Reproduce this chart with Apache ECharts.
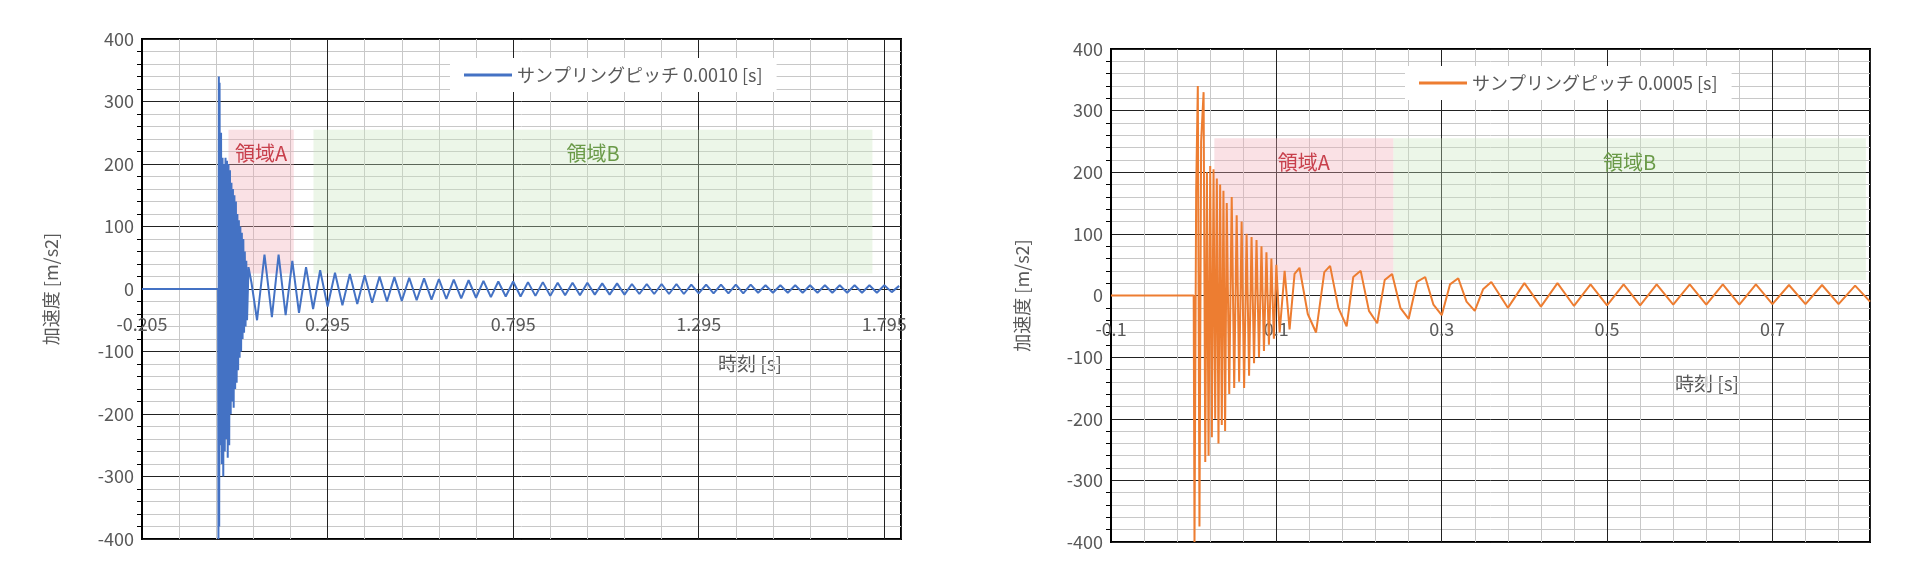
<!DOCTYPE html>
<html><head><meta charset="utf-8">
<script src="https://cdn.jsdelivr.net/npm/echarts@6/dist/echarts.min.js"></script>
<style>html,body{margin:0;padding:0;background:#fff}#c{width:1920px;height:588px}</style>
</head><body><div id="c"></div>
<script>
// Left series (sampling 0.0010 s): times [s] and accelerations [m/s2]
const timesA = [-0.205,0,0.001,0.002,0.003,0.004,0.006,0.008,0.010,0.012,0.014,0.016,0.018,0.020,0.022,0.024,0.026,0.028,0.030,0.032,0.034,0.036,0.038,0.040,0.042,0.044,0.046,0.048,0.050,0.052,0.054,0.056,0.058,0.060,0.062,0.064,0.066,0.068,0.070,0.072,0.074,0.076,0.078,0.082,0.090,0.105,0.125,0.145,0.163,0.182,0.200,0.218,0.237,0.256,0.275,
0.295,0.315,0.335,0.355,0.375,0.395,0.415,0.435,0.455,0.475,0.495,0.515,0.535,0.555,0.575,0.595,0.615,0.635,0.655,0.675,0.695,0.715,0.735,0.755,0.775,0.795,0.815,0.835,0.855,0.875,0.895,0.915,0.935,0.955,0.975,0.995,1.015,1.035,1.055,1.075,1.095,1.115,1.135,1.155,1.175,1.195,1.215,1.235,1.255,1.275,1.295,1.315,1.335,1.355,1.375,1.395,1.415,1.435,1.455,1.475,1.495,1.515,1.535,1.555,1.575,1.595,1.615,1.635,1.655,1.675,1.695,1.715,1.735,1.755,1.775,1.795,1.815,1.835];
const valuesA = [0,0,-400,340,-380,330,-250,250,-280,210,-300,200,-260,210,-240,205,-270,200,-250,190,-200,170,-180,160,-190,150,-160,140,-150,120,-130,110,-110,100,-100,90,-80,80,-70,60,-60,45,-50,35,10,-50,55,-45,55,-42,45,-38,35,-32,30,
-28,26,-26,24,-24,22,-22,20,-20,19,-19,18,-18,17,-17,16,-16,15,-15,14,-14,13,-13,12,-12,12,-12,11,-11,11,-11,10,-10,10,-10,10,-9,9,-9,9,-9,8,-8,8,-8,8,-8,8,-8,7,-7,7,-7,7,-7,7,-7,7,-6,6,-6,6,-6,6,-6,6,-6,6,-6,6,-6,6,-6,6,-6,6,-5,5,-5,5];
// Right series (sampling 0.0005 s)
const timesB = [-0.1,0,0.001,0.003,0.005,0.007,0.009,0.012,0.014,0.016,0.018,0.020,0.022,0.024,0.026,0.028,0.030,0.032,0.034,0.036,0.038,0.040,0.043,0.046,0.049,0.052,0.055,0.058,0.061,0.064,0.067,0.070,0.073,0.076,0.079,0.082,0.085,0.088,0.091,0.094,0.097,0.100,0.104,0.110,0.116,0.122,0.128,0.138,0.148,0.158,0.165,0.175,0.185,0.193,0.202,0.212,0.222,0.231,0.240,0.250,0.260,0.270,0.280,0.290,0.300,0.310,0.320,0.330,0.340,0.350,0.360,0.380,0.400,0.420,0.440,0.460,0.480,0.500,0.520,0.540,0.560,0.580,0.600,0.620,0.640,0.660,0.680,0.700,0.720,0.740,0.760,0.780,0.800,0.818];
const valuesB = [0,0,-400,170,340,-375,250,330,-270,200,-260,210,-230,205,-200,190,-240,180,-210,170,-220,150,-160,160,-150,130,-140,120,-150,100,-130,95,-110,90,-100,80,-90,70,-80,60,-70,50,-60,40,-55,35,45,-30,-60,38,48,-20,-50,30,40,-25,-45,25,35,-20,-38,22,30,-15,-32,18,28,-10,-25,10,22,-20,20,-18,20,-17,18,-16,18,-16,18,-15,18,-15,18,-15,18,-14,17,-14,17,-14,16,-10];

const pairs = (t, v) => t.map((x, i) => [x, v[i]]);
const font = 'Noto Sans CJK JP';
const gray = '#595959';

function axes(gi, min, max, interval, nameGap, labelMargin) {
  const x = {
    type: 'value', gridIndex: gi, min: min, max: max, interval: interval,
    axisLine: { show: false },
    axisTick: { show: false },
    axisLabel: { color: gray, fontSize: 18, fontFamily: font, showMaxLabel: false, margin: labelMargin,
      formatter: v => String(+v.toFixed(3)) },
    splitLine: { show: true, lineStyle: { color: '#222', width: 1 } },
    minorTick: { show: false, splitNumber: 5 },
    minorSplitLine: { show: true, lineStyle: { color: '#c8c8c8', width: 1 } }
  };
  const y = {
    type: 'value', gridIndex: gi, min: -400, max: 400, interval: 100,
    name: '加速度 [m/s2]', nameLocation: 'middle', nameGap: nameGap,
    nameTextStyle: { color: gray, fontSize: 18, fontFamily: font },
    axisLine: { show: true, onZero: false, lineStyle: { color: '#000', width: 2 } },
    axisTick: { show: false },
    minorTick: { show: true, splitNumber: 5, length: 5, lineStyle: { color: '#000' } },
    axisLabel: { color: gray, fontSize: 18, fontFamily: font },
    splitLine: { show: true, lineStyle: { color: '#222', width: 1 } },
    minorSplitLine: { show: true, lineStyle: { color: '#c8c8c8', width: 1 } }
  };
  return [x, y];
}
const [x0, y0] = axes(0, -0.205, 1.84, 0.5, 82, -224);
const [x1, y1] = axes(1, -0.1, 0.818, 0.2, 80, -222);

function areas(a, b) {
  return {
    silent: true,
    data: [
      [{ xAxis: a[0], yAxis: 25, itemStyle: { color: 'rgba(240,170,180,0.35)' },
         label: { show: true, position: 'insideTop', distance: 14, formatter: '領域A', color: '#c8404c', fontSize: 20, fontFamily: font } },
       { xAxis: a[1], yAxis: 255 }],
      [{ xAxis: b[0], yAxis: 25, itemStyle: { color: 'rgba(200,230,190,0.35)' },
         label: { show: true, position: 'insideTop', distance: 14, formatter: '領域B', color: '#6a9a48', fontSize: 20, fontFamily: font } },
       { xAxis: b[1], yAxis: 255 }]
    ]
  };
}

const nameA = 'サンプリングピッチ 0.0010 [s]';
const nameB = 'サンプリングピッチ 0.0005 [s]';

const chart = echarts.init(document.getElementById('c'));
chart.setOption({
  animation: false,
  grid: [
    { left: 142, top: 39, width: 759, height: 500, show: true, borderColor: '#000', borderWidth: 2 },
    { left: 1111, top: 49, width: 759, height: 493, show: true, borderColor: '#000', borderWidth: 2 }
  ],
  xAxis: [x0, x1],
  yAxis: [y0, y1],
  legend: [
    { data: [nameA], left: 450, top: 58, backgroundColor: '#fff', padding: [8, 14], itemWidth: 48, itemHeight: 3,
      textStyle: { color: gray, fontSize: 18, fontFamily: font }, icon: 'rect' },
    { data: [nameB], left: 1405, top: 66, backgroundColor: '#fff', padding: [8, 14], itemWidth: 48, itemHeight: 3,
      textStyle: { color: gray, fontSize: 18, fontFamily: font }, icon: 'rect' }
  ],
  graphic: [
    { type: 'text', left: 708, top: 350, style: { text: '時刻 [s]', fill: gray, fontSize: 19, fontFamily: font, backgroundColor: '#fff', padding: [4, 10] } },
    { type: 'text', left: 1665, top: 370, style: { text: '時刻 [s]', fill: gray, fontSize: 19, fontFamily: font, backgroundColor: '#fff', padding: [4, 10] } }
  ],
  series: [
    { name: nameA, type: 'line', xAxisIndex: 0, yAxisIndex: 0, data: pairs(timesA, valuesA), showSymbol: false,
      lineStyle: { color: '#4472c4', width: 2 }, itemStyle: { color: '#4472c4' }, z: 3,
      markArea: areas([0.028, 0.204], [0.257, 1.763]) },
    { name: nameB, type: 'line', xAxisIndex: 1, yAxisIndex: 1, data: pairs(timesB, valuesB), showSymbol: false,
      lineStyle: { color: '#ed7d31', width: 2 }, itemStyle: { color: '#ed7d31' }, z: 3,
      markArea: areas([0.025, 0.2415], [0.2415, 0.813]) }
  ]
});
</script></body></html>
